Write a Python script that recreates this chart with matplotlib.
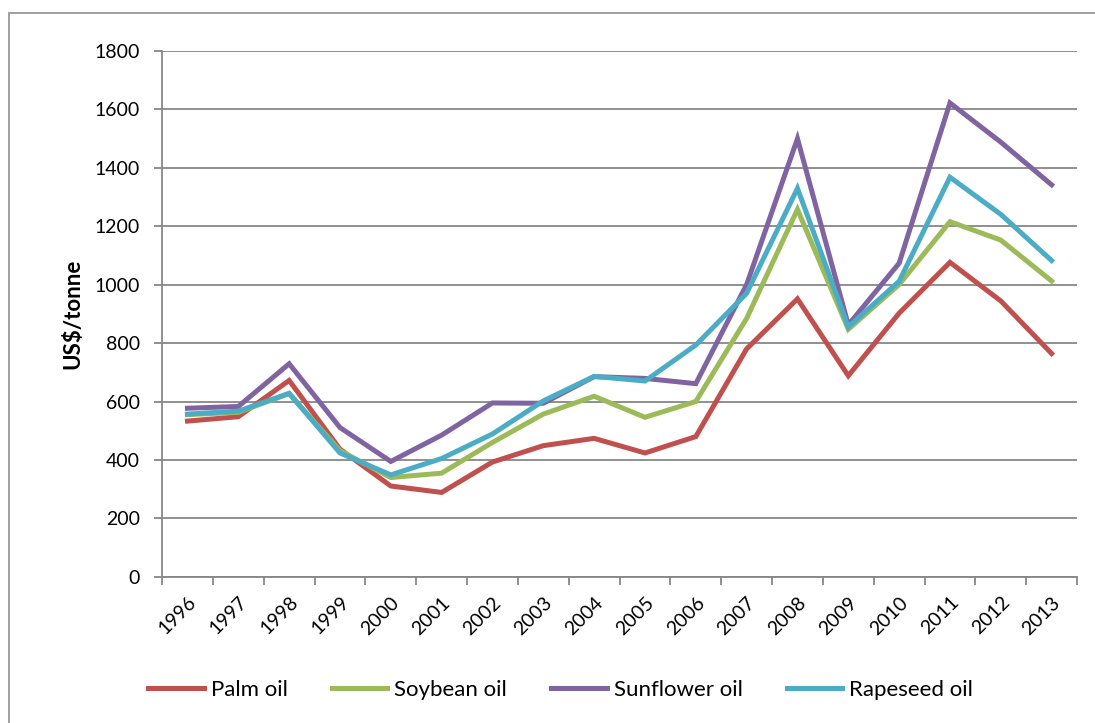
import matplotlib
matplotlib.use('Agg')
import matplotlib.pyplot as plt
from matplotlib.patches import Rectangle
import numpy as np

years = ['1996', '1997', '1998', '1999', '2000', '2001', '2002', '2003', '2004',
         '2005', '2006', '2007', '2008', '2009', '2010', '2011', '2012', '2013']

palm = [533, 548, 672, 437, 311, 289, 393, 449, 474, 424, 480, 780, 951, 688, 902, 1076, 944, 764]
soybean = [555, 563, 627, 432, 340, 355, 460, 557, 618, 546, 600, 884, 1257, 847, 1000, 1215, 1152, 1012]
sunflower = [577, 583, 729, 511, 395, 485, 595, 594, 685, 679, 661, 1000, 1499, 862, 1073, 1621, 1487, 1341]
rapeseed = [557, 567, 628, 424, 349, 405, 489, 602, 686, 670, 793, 970, 1329, 855, 1011, 1367, 1240, 1082]

series = [('Palm oil', palm, '#C0504D'),
          ('Soybean oil', soybean, '#9BBB59'),
          ('Sunflower oil', sunflower, '#8064A2'),
          ('Rapeseed oil', rapeseed, '#4BACC6')]

plt.rcParams['font.family'] = ['Lato', 'DejaVu Sans']

fig = plt.figure(figsize=(10.95, 7.23), dpi=100)
ax = fig.add_axes([0.148, 0.202, 0.8356, 0.728])

#outer chart border (only top and left visible in the crop)
fig.patches.append(Rectangle((9 / 1095, -0.1), 1.2, 1 - 13 / 723 + 0.1,
                             transform=fig.transFigure, fill=False,
                             edgecolor='#9a9a9a', linewidth=1.3))

x = np.arange(len(years))
for name, vals, col in series:
    ax.plot(x, vals, color=col, linewidth=3.6, label=name, solid_joinstyle='miter')

ax.set_xlim(-0.5, len(years) - 0.5)
ax.set_ylim(0, 1800)
ax.set_yticks(np.arange(0, 1801, 200))
ax.yaxis.grid(True, color='#878787', linewidth=1.3)
ax.set_axisbelow(True)

ax.set_xticks(x)
ax.set_xticklabels(years, rotation=45, ha='right', rotation_mode='anchor', fontsize=14)
ax.set_xticks(np.arange(-0.5, len(years), 1), minor=True)
ax.tick_params(axis='x', which='major', length=0, pad=12)
ax.tick_params(axis='x', which='minor', length=6, color='#878787', width=1.3)
ax.tick_params(axis='y', length=6, color='#878787', width=1.3, pad=10, labelsize=14)

for s in ['top', 'right']:
    ax.spines[s].set_visible(False)
for s in ['left', 'bottom']:
    ax.spines[s].set_color('#878787')
    ax.spines[s].set_linewidth(1.3)

ax.set_ylabel('US$/tonne', fontsize=16, fontweight='bold', labelpad=8)

fig.legend(loc='center', bbox_to_anchor=(0.512, 1 - 690 / 723), ncol=4, frameon=False,
           fontsize=16, handlelength=2.5, handletextpad=0.3, columnspacing=2.0)

fig.savefig('out.png', dpi=100)
